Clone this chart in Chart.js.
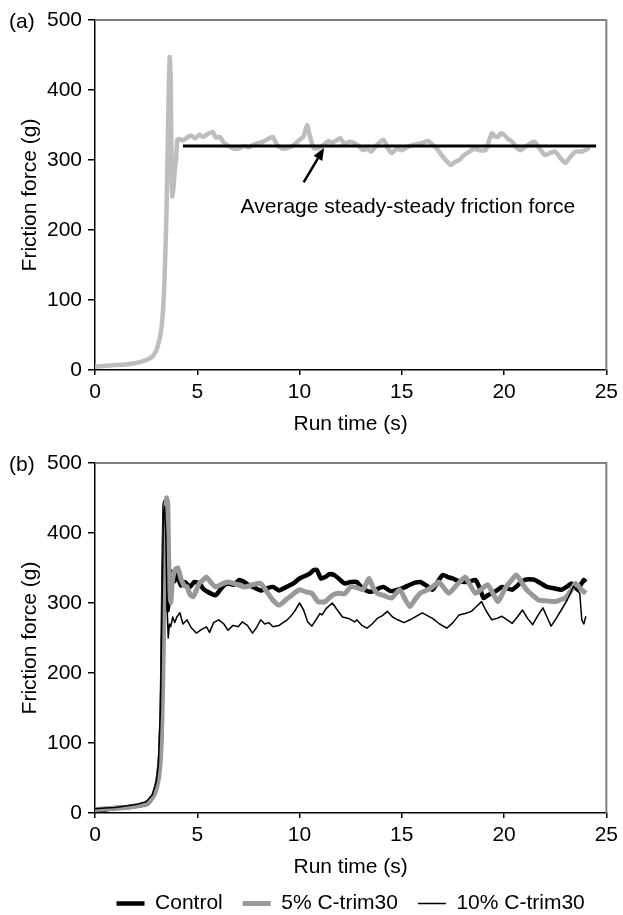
<!DOCTYPE html>
<html><head><meta charset="utf-8">
<script src="https://cdn.jsdelivr.net/npm/chart.js@4.4.1/dist/chart.umd.min.js"></script>
<style>
html,body{margin:0;padding:0;width:623px;height:915px;overflow:hidden;background:#fff;}
#ca{position:absolute;left:0;top:0;}
#cb{position:absolute;left:0;top:440px;}
</style></head><body>
<canvas id="ca" width="623" height="440"></canvas>
<canvas id="cb" width="623" height="484"></canvas>
<script>
// ---------- Panel (a) ----------
const timeA = [0,0.5,1.0,1.5,2.0,2.5,2.8,3.0,3.1,3.2,3.3,3.4,3.5,3.58,3.65,3.7,3.74,3.78,3.84,3.9,3.96,4.02,4.1,4.3,4.5,4.7,4.9,5.1,5.3,5.5,5.77,5.9,6.1,6.3,6.58,6.8,7.07,7.3,7.5,7.7,7.95,8.2,8.45,8.68,8.9,9.17,9.5,9.75,9.97,10.2,10.37,10.5,10.7,10.95,11.2,11.4,11.6,11.8,12.0,12.2,12.45,12.7,12.9,13.1,13.3,13.5,13.8,14.1,14.3,14.5,14.75,15.0,15.3,15.6,15.95,16.3,16.5,16.7,16.85,17.0,17.2,17.4,17.6,17.8,18.05,18.3,18.55,18.8,19.1,19.25,19.4,19.55,19.7,19.85,20.0,20.2,20.4,20.6,20.8,21.0,21.2,21.35,21.5,21.75,22.0,22.25,22.5,22.75,23.0,23.25,23.5,23.8,24.1];
const forceA = [5,6,7,8,10,14,19,28,38,50,75,130,230,360,447,420,300,248,262,285,300,328,330,328,332,335,331,336,333,337,340,332,333,325,319,316,317,320,318,321,324,326,330,333,322,316,318,322,328,334,350,335,317,317,322,327,325,328,331,323,326,324,320,314,316,312,322,329,318,310,316,314,319,322,324,327,322,317,311,305,298,293,297,300,307,312,316,314,314,326,338,334,333,338,336,330,326,318,314,318,322,325,326,316,307,310,312,303,296,305,312,312,316];
const avgTime = [4.3, 24.5];
const avgForce = [320, 320];
const arrowFrom = [10.2, 268];
const arrowTo = [11.2, 317];
const noteAt = [15.3, 232];
const noteText = 'Average steady-steady friction force';

// ---------- Panel (b) ----------
const timeCtrl = [0,0.5,1.0,1.5,2.0,2.5,2.8,2.95,3.1,3.2,3.28,3.34,3.4,3.44,3.5,3.55,3.62,3.7,3.8,3.9,4.0,4.2,4.4,4.64,4.85,5.1,5.3,5.5,5.7,5.9,6.1,6.3,6.5,6.8,7.05,7.3,7.55,7.8,8.1,8.4,8.7,9.0,9.3,9.5,9.7,10.0,10.3,10.5,10.7,10.85,11.05,11.25,11.45,11.7,11.95,12.2,12.5,12.8,13.1,13.5,13.8,14.1,14.45,14.8,15.1,15.4,15.65,15.9,16.2,16.5,16.75,17.0,17.25,17.5,17.8,18.1,18.35,18.6,18.8,19.0,19.2,19.4,19.65,19.9,20.15,20.4,20.7,21.0,21.25,21.5,21.8,22.1,22.45,22.8,23.05,23.3,23.45,23.6,23.75,23.9,24.0];
const forceCtrl = [4,5,7,8,10,13,22,32,55,90,180,330,440,445,380,290,310,345,330,332,342,325,330,323,330,328,320,316,313,311,318,325,328,326,333,330,325,322,318,321,323,318,322,325,328,335,339,342,347,347,335,337,341,340,334,328,330,330,320,316,320,323,317,319,322,326,329,330,325,319,330,340,337,335,331,330,331,333,322,307,311,314,318,323,321,319,326,333,334,333,328,323,321,319,323,328,324,319,326,333,330];
const time5 = [0,0.5,1.0,1.5,2.0,2.5,2.8,3.0,3.15,3.25,3.35,3.42,3.5,3.56,3.62,3.7,3.78,3.9,4.05,4.2,4.35,4.5,4.65,4.8,4.95,5.1,5.3,5.45,5.65,5.9,6.2,6.5,6.9,7.3,7.7,8.1,8.4,8.7,9.0,9.35,9.7,10.0,10.3,10.6,10.9,11.25,11.6,11.9,12.2,12.5,12.8,13.1,13.25,13.4,13.6,13.8,14.1,14.5,14.9,15.15,15.4,15.65,15.9,16.2,16.5,16.8,17.05,17.3,17.7,18.1,18.35,18.6,18.9,19.2,19.45,19.7,19.9,20.1,20.35,20.6,20.85,21.1,21.4,21.7,22.1,22.5,22.8,23.0,23.25,23.5,23.75,24.0];
const force5 = [5,6,7,8,10,14,22,35,60,110,250,400,450,440,330,300,330,347,350,335,325,323,312,309,318,328,333,337,330,323,327,330,327,323,326,328,316,304,297,305,313,319,316,314,302,302,311,314,313,323,322,319,327,335,322,314,311,307,319,306,295,305,314,318,323,330,322,314,326,337,325,314,320,326,314,302,312,323,332,340,330,319,311,304,303,302,305,307,317,328,320,314];
const time10 = [0,0.5,1.0,1.5,2.0,2.5,2.8,3.0,3.1,3.2,3.28,3.35,3.4,3.46,3.52,3.58,3.64,3.7,3.8,3.9,4.0,4.15,4.3,4.5,4.7,4.95,5.2,5.45,5.6,5.8,6.05,6.3,6.5,6.75,7.0,7.2,7.45,7.7,7.9,8.1,8.3,8.5,8.7,9.0,9.2,9.4,9.6,9.8,10.0,10.2,10.4,10.6,10.8,11.0,11.1,11.3,11.6,11.85,12.1,12.4,12.7,12.8,13.05,13.3,13.55,13.8,14.05,14.3,14.55,14.8,15.1,15.4,15.7,16.0,16.25,16.5,16.85,17.2,17.5,17.8,18.1,18.4,18.65,18.9,19.1,19.4,19.65,19.9,20.15,20.4,20.65,20.9,21.15,21.4,21.65,21.9,22.1,22.3,22.55,22.8,23.1,23.4,23.55,23.7,23.8,23.9,24.0];
const force10 = [6,7,8,10,12,16,26,45,70,150,300,430,438,400,300,250,270,266,280,272,280,286,270,276,265,257,262,266,258,272,276,270,261,268,266,273,268,257,265,276,270,272,266,268,272,276,282,290,300,290,273,267,276,285,283,292,300,290,280,278,273,276,268,264,270,278,282,288,280,276,272,276,281,286,282,278,270,264,272,283,285,288,295,302,290,276,278,281,276,271,280,290,278,269,282,293,280,267,278,290,305,324,318,314,276,270,281];
const seriesNames = ['Control', '5% C-trim30', '10% C-trim30'];

// ---------- axes ----------
const xTicks = {min: 0, max: 25, step: 5, title: 'Run time (s)'};
const yTicks = {min: 0, max: 500, step: 100, title: 'Friction force (g)'};

const FONT = '"Liberation Sans", Arial, Helvetica, sans-serif';
Chart.defaults.font.family = FONT;
Chart.defaults.font.size = 21;
Chart.defaults.color = '#000';

const pts = (t, v) => t.map((x, i) => ({x, y: v[i]}));

function scalesCfg(xHeight, titlePad) {
  return {
    x: {
      type: 'linear', min: xTicks.min, max: xTicks.max,
      ticks: {stepSize: xTicks.step, padding: 5, color: '#000', font: {size: 21}, maxRotation: 0},
      grid: {drawOnChartArea: false, drawTicks: true, tickLength: 5, color: '#000', lineWidth: 1.5},
      border: {display: true, color: '#000', width: 1.5},
      title: {display: true, text: xTicks.title, color: '#000', font: {size: 21}, padding: {top: 0, bottom: titlePad}},
      afterFit: s => { s.height = xHeight; }
    },
    y: {
      type: 'linear', min: yTicks.min, max: yTicks.max,
      ticks: {stepSize: yTicks.step, padding: 6, color: '#000', font: {size: 21}},
      grid: {drawOnChartArea: false, drawTicks: true, tickLength: 7, color: '#000', lineWidth: 1.5},
      border: {display: true, color: '#000', width: 1.5},
      title: {display: true, text: yTicks.title, color: '#000', font: {size: 21}, padding: {top: 18, bottom: 0}},
      afterFit: s => { s.width = 95; }
    }
  };
}

const framePlugin = {
  id: 'frame',
  afterDraw(chart, args, opts) {
    const {ctx, chartArea: a} = chart;
    ctx.save();
    ctx.strokeStyle = '#808080';
    ctx.lineWidth = 2;
    ctx.beginPath();
    ctx.moveTo(a.left, a.top);
    ctx.lineTo(a.right, a.top);
    ctx.lineTo(a.right, a.bottom);
    ctx.stroke();
    ctx.fillStyle = '#000';
    ctx.font = '21px ' + FONT;
    ctx.textBaseline = 'middle';
    ctx.textAlign = 'left';
    ctx.fillText(opts.label, 9, a.top + 2);
    ctx.restore();
  }
};

const notePlugin = {
  id: 'note',
  afterDatasetsDraw(chart) {
    const {ctx} = chart;
    const xs = chart.scales.x, ys = chart.scales.y;
    const x0 = xs.getPixelForValue(arrowFrom[0]), y0 = ys.getPixelForValue(arrowFrom[1]);
    const x1 = xs.getPixelForValue(arrowTo[0]), y1 = ys.getPixelForValue(arrowTo[1]);
    const ang = Math.atan2(y1 - y0, x1 - x0);
    const hl = 12, hw = 5;
    const bx = x1 - hl * Math.cos(ang), by = y1 - hl * Math.sin(ang);
    ctx.save();
    ctx.strokeStyle = '#000';
    ctx.fillStyle = '#000';
    ctx.lineWidth = 2.5;
    ctx.beginPath();
    ctx.moveTo(x0, y0);
    ctx.lineTo(bx, by);
    ctx.stroke();
    ctx.beginPath();
    ctx.moveTo(x1, y1);
    ctx.lineTo(bx + hw * Math.sin(ang), by - hw * Math.cos(ang));
    ctx.lineTo(bx - hw * Math.sin(ang), by + hw * Math.cos(ang));
    ctx.closePath();
    ctx.fill();
    ctx.font = '21px ' + FONT;
    ctx.textAlign = 'center';
    ctx.textBaseline = 'middle';
    ctx.fillText(noteText, xs.getPixelForValue(noteAt[0]), ys.getPixelForValue(noteAt[1]));
    ctx.restore();
  }
};

new Chart(document.getElementById('ca'), {
  type: 'line',
  data: {
    datasets: [
      {label: 'Average', data: pts(avgTime, avgForce), borderColor: '#000', borderWidth: 3, pointRadius: 0, tension: 0, borderCapStyle: 'butt'},
      {label: 'Friction', data: pts(timeA, forceA), borderColor: '#bdbdbd', borderWidth: 4.5, pointRadius: 0, tension: 0.2, borderJoinStyle: 'round', borderCapStyle: 'round'}
    ]
  },
  options: {
    responsive: false, animation: false, events: [],
    layout: {padding: {left: 0, right: 14, top: 20, bottom: 0}},
    scales: scalesCfg(70, 3),
    plugins: {legend: {display: false}, tooltip: {enabled: false}, frame: {label: '(a)'}}
  },
  plugins: [framePlugin, notePlugin]
});

new Chart(document.getElementById('cb'), {
  type: 'line',
  data: {
    datasets: [
      {label: seriesNames[0], data: pts(timeCtrl, forceCtrl), borderColor: '#000', borderWidth: 4.5, pointRadius: 0, tension: 0.2, borderJoinStyle: 'round', order: 2},
      {label: seriesNames[1], data: pts(time5, force5), borderColor: '#999999', borderWidth: 5, pointRadius: 0, tension: 0.2, borderJoinStyle: 'round', order: 1},
      {label: seriesNames[2], data: pts(time10, force10), borderColor: '#000', borderWidth: 1.5, pointRadius: 0, tension: 0, borderJoinStyle: 'round', order: 0}
    ]
  },
  options: {
    responsive: false, animation: false, events: [],
    layout: {padding: {left: 0, right: 14, top: 23, bottom: 0}},
    scales: scalesCfg(60, -7),
    plugins: {
      tooltip: {enabled: false},
      frame: {label: '(b)'},
      legend: {
        display: true, position: 'bottom', fullSize: false,
        labels: {
          usePointStyle: true, pointStyle: 'line', pointStyleWidth: 28, padding: 20,
          color: '#000', font: {size: 21},
          sort: (a, b) => a.datasetIndex - b.datasetIndex
        }
      }
    }
  },
  plugins: [framePlugin]
});
</script>
</body></html>
